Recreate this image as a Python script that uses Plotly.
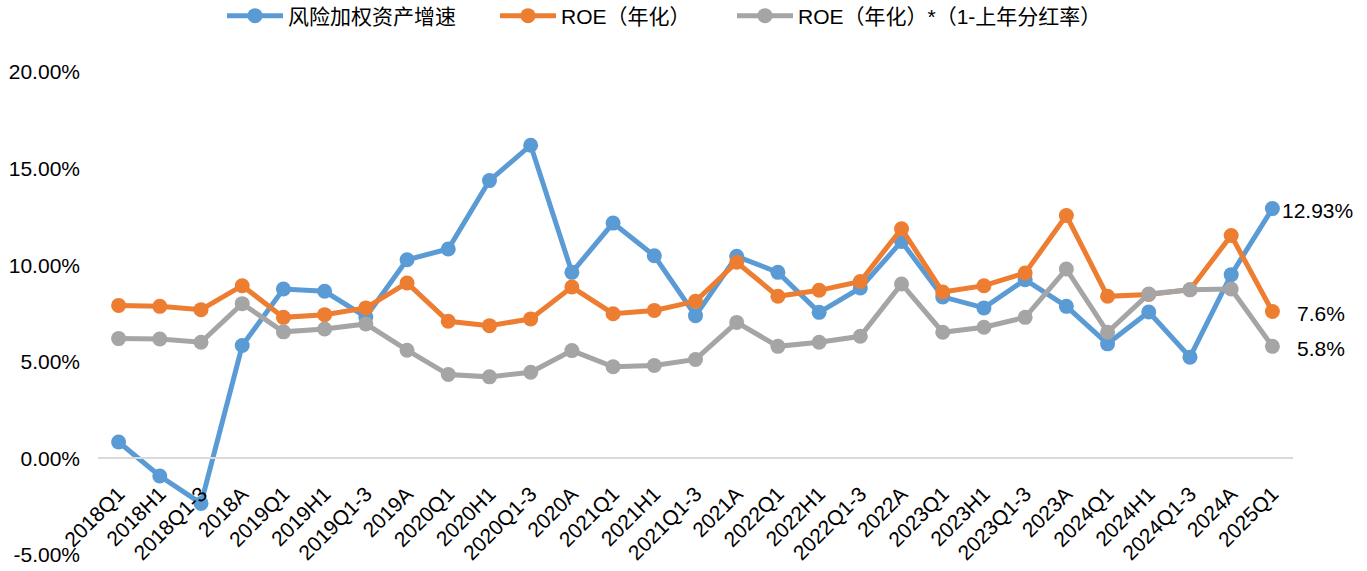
import plotly.graph_objects as go

categories = ["2018Q1", "2018H1", "2018Q1-3", "2018A", "2019Q1", "2019H1", "2019Q1-3", "2019A",
              "2020Q1", "2020H1", "2020Q1-3", "2020A", "2021Q1", "2021H1", "2021Q1-3", "2021A",
              "2022Q1", "2022H1", "2022Q1-3", "2022A", "2023Q1", "2023H1", "2023Q1-3", "2023A",
              "2024Q1", "2024H1", "2024Q1-3", "2024A", "2025Q1"]

rwa_growth = [0.85, -0.91, -2.33, 5.84, 8.77, 8.65, 7.32, 10.28,
              10.84, 14.38, 16.21, 9.63, 12.18, 10.49, 7.39, 10.46,
              9.63, 7.56, 8.82, 11.23, 8.36, 7.79, 9.25, 7.87,
              5.93, 7.58, 5.24, 9.51, 12.93]

roe = [7.92, 7.87, 7.70, 8.94, 7.30, 7.44, 7.79, 9.08,
       7.10, 6.87, 7.22, 8.87, 7.49, 7.66, 8.13, 10.15,
       8.39, 8.70, 9.16, 11.89, 8.61, 8.94, 9.60, 12.57,
       8.39, 8.48, 8.73, 11.54, 7.6]

roe_retained = [6.20, 6.18, 6.01, 8.01, 6.55, 6.70, 6.96, 5.60,
                4.34, 4.22, 4.46, 5.58, 4.74, 4.81, 5.12, 7.04,
                5.80, 6.01, 6.32, 9.03, 6.53, 6.79, 7.30, 9.80,
                6.53, 8.51, 8.73, 8.77, 5.8]

series_names = ["风险加权资产增速", "ROE（年化）", "ROE（年化）*（1-上年分红率）"]
series_colors = ["#5B9BD5", "#ED7D31", "#A5A5A5"]
label_formats = [".2f", ".1f", ".1f"]
legend_ids = ["legend", "legend2", "legend3"]
legend_x = [222, 495, 732]
label_xshift = [8, 23, 23]

y_tick_vals = [-5, 0, 5, 10, 15, 20]
y_tick_text = ["-5.00%", "0.00%", "5.00%", "10.00%", "15.00%", "20.00%"]

W, H = 1367, 571
fig = go.Figure()
annotations = []
for vals, name, color, fmt, lid, xs in zip([rwa_growth, roe, roe_retained], series_names,
                                           series_colors, label_formats, legend_ids, label_xshift):
    fig.add_trace(go.Scatter(
        x=categories, y=vals, name=name, mode="lines+markers",
        line=dict(color=color, width=5),
        marker=dict(color=color, size=15),
        legend=lid, cliponaxis=False,
    ))
    annotations.append(dict(
        x=categories[-1], y=vals[-1], xref="x", yref="y",
        text=format(vals[-1], fmt) + "%", showarrow=False,
        xanchor="left", yanchor="middle", xshift=xs, yshift=-2,
        font=dict(family="Liberation Sans, Arial", size=21, color="#000000"),
    ))

legend_common = dict(orientation="h", xref="container", yref="container",
                     xanchor="left", yanchor="middle", y=1 - 16 / H,
                     font=dict(family="Liberation Sans, Noto Sans CJK SC", size=21, color="#000000"),
                     itemwidth=56, bgcolor="rgba(0,0,0,0)", borderwidth=0)

layout_legends = {}
for lid, lx in zip(legend_ids, legend_x):
    layout_legends[lid] = dict(legend_common, x=lx / W)

fig.update_layout(
    width=W, height=H,
    margin=dict(l=98, r=74, t=72, b=16),
    plot_bgcolor="white", paper_bgcolor="white",
    font=dict(family="Liberation Sans, Arial, Noto Sans CJK SC", size=21, color="#000000"),
    showlegend=True,
    annotations=annotations,
    xaxis=dict(type="category", range=[-0.5, len(categories) - 0.5],
               anchor="free", position=0.2, automargin=False,
               showline=True, linecolor="#D9D9D9", linewidth=2,
               showgrid=False, zeroline=False, ticks="",
               tickangle=-45, ticklabelstandoff=14, tickfont=dict(size=21)),
    yaxis=dict(range=[-5, 20], domain=[0, 1], showgrid=False, zeroline=False,
               showline=False, ticks="", automargin=False,
               tickvals=y_tick_vals, ticktext=y_tick_text,
               ticklabelstandoff=17, tickfont=dict(size=21)),
    **layout_legends,
)

fig.write_html("out.html", config={"displayModeBar": False},
               post_script="document.body.style.margin='0';")
